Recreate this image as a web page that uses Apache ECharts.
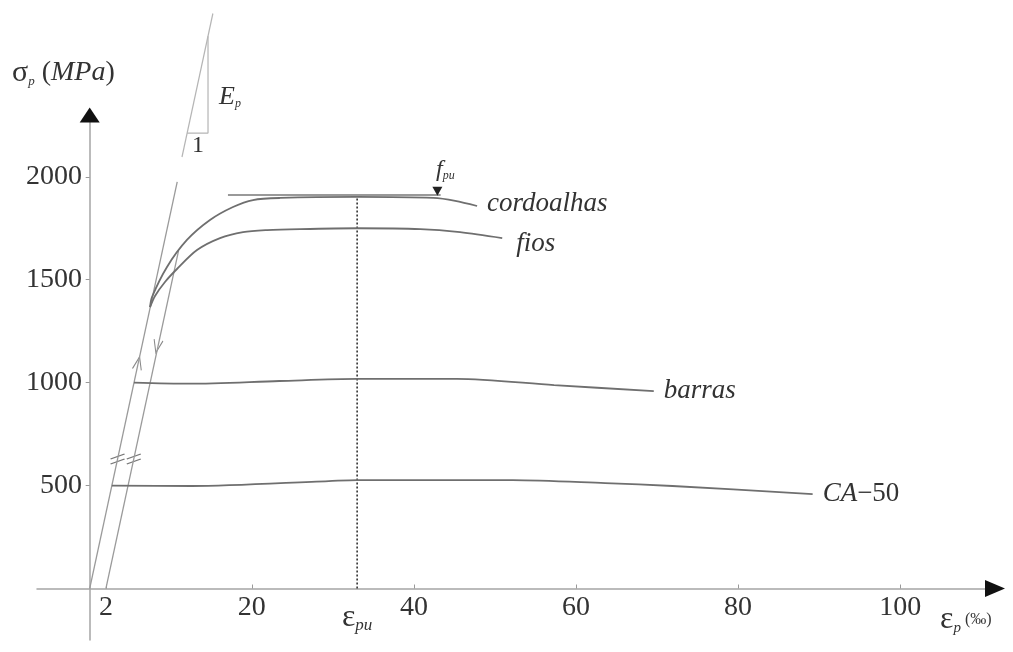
<!DOCTYPE html>
<html>
<head>
<meta charset="utf-8">
<script src="https://cdn.jsdelivr.net/npm/echarts@6.0.0/dist/echarts.min.js"></script>
<style>
html, body { margin: 0; padding: 0; background: #fff; }
#main { width: 1013px; height: 652px; }
</style>
</head>
<body>
<div id="main"></div>
<script>
// tick labels
var strainTicks = [2, 20, 40, 60, 80, 100];
var strainLabels = [2, 20, 33, 40, 60, 80, 100];
var stressTicks = [500, 1000, 1500, 2000];
var epsPu = 33;

// curves  [strain (permil), stress (MPa)]
var cordoalhas = [[7.45, 1367], [7.69, 1416], [9.54, 1562], [12.0, 1693], [14.84, 1790], [17.68, 1853],
	[20.15, 1887], [23.5, 1897], [33.0, 1902], [42.4, 1897], [45.1, 1883], [47.8, 1858]];
var fios = [[7.45, 1367], [8.06, 1421], [9.29, 1489], [10.77, 1552], [13.24, 1644], [16.08, 1702],
	[18.92, 1731], [21.88, 1741], [25.96, 1746], [33.0, 1750], [40.8, 1746], [45.7, 1731], [50.9, 1702]];
var barras = [[5.46, 1000], [12.25, 995], [23.4, 1008], [33.0, 1018], [45.3, 1018], [57.3, 988], [69.6, 959]];
var ca50 = [[2.73, 500], [12.6, 498], [29.5, 522], [33.0, 527], [52.2, 527], [63.6, 512], [71.9, 498], [89.2, 459]];

// construction lines
var loadingLine = [[0, 0], [10.8, 1975]];
var unloadingLine = [[2, 0], [10.96, 1640]];
var fpuLine = [[17.06, 1912], [43.3, 1912]];
var fpuMark = [42.9, 1930];
var epuLine = [[epsPu, 0], [epsPu, 1902]];
var slopeHyp = [[11.39, 2096], [15.2, 2793]];
var slopeLegs = [[12.02, 2212], [14.6, 2212], [14.6, 2683]];
var breakMarks = [[3.44, 629], [5.44, 629]];
var upArrow = [[5.99, 1095]];
var downArrow = [[8.33, 1176]];
var xMax = 111.7, yMax = 2300;

var serif = 'Liberation Serif';
var ink = '#333';
var curveColor = '#6f6f6f';
var thinColor = '#9a9a9a';

var chart = echarts.init(document.getElementById('main'));

function curve(name, data, label, offset) {
	return {
		name: name,
		type: 'line',
		data: data,
		smooth: 0.3,
		symbol: 'none',
		lineStyle: { color: curveColor, width: 1.8 },
		endLabel: {
			show: true,
			formatter: label,
			distance: 10,
			offset: offset || [0, 0],
			fontFamily: serif,
			fontStyle: 'italic',
			fontSize: 27,
			color: ink,
			rich: {
				i: { fontFamily: serif, fontStyle: 'italic', fontSize: 27, color: ink },
				n: { fontFamily: serif, fontStyle: 'normal', fontSize: 27, color: ink }
			}
		}
	};
}

function thin(data, color, width, type) {
	return {
		type: 'line',
		data: data,
		symbol: 'none',
		clip: false,
		silent: true,
		lineStyle: { color: color, width: width, type: type || 'solid' }
	};
}

function marker(data, symbol, size, rotate, style) {
	return {
		type: 'scatter',
		data: data,
		clip: false,
		silent: true,
		symbol: symbol,
		symbolSize: size,
		symbolRotate: rotate,
		itemStyle: style
	};
}

var option = {
	animation: false,
	backgroundColor: '#fff',
	grid: { left: 37, right: 18, top: 115, bottom: 12, containLabel: false, outerBoundsMode: 'none' },
	xAxis: {
		type: 'value',
		min: -6.5,
		max: xMax,
		splitLine: { show: false },
		axisLine: { onZero: true, lineStyle: { color: '#a5a5a5', width: 1.5 } },
		axisTick: { show: true, inside: true, length: 4, customValues: strainTicks, lineStyle: { color: '#999' } },
		axisLabel: {
			customValues: strainLabels,
			margin: -46,
			fontFamily: serif,
			fontSize: 28,
			color: ink,
			formatter: function (v) {
				return v === epsPu ? '{e|ε}{s|pu}' : String(v);
			},
			rich: {
				e: { fontFamily: serif, fontSize: 32, color: ink, padding: [8, 0, 0, 0] },
				s: { fontFamily: serif, fontStyle: 'italic', fontSize: 17, color: ink, verticalAlign: 'bottom' }
			}
		}
	},
	yAxis: {
		type: 'value',
		min: -250,
		max: yMax,
		splitLine: { show: false },
		axisLine: { onZero: true, lineStyle: { color: '#a5a5a5', width: 1.5 } },
		axisTick: { show: true, length: 4, customValues: stressTicks, lineStyle: { color: '#999' } },
		axisLabel: {
			customValues: stressTicks,
			margin: -45,
			fontFamily: serif,
			fontSize: 28,
			color: ink,
			formatter: function (v) { return String(v); }
		}
	},
	graphic: [
		{
			type: 'text', left: 12, top: 58,
			style: {
				text: '{s|σ}{p|p}{t| (}{i|MPa}{t|)}',
				rich: {
					s: { fontFamily: serif, fontSize: 30, fill: ink },
					p: { fontFamily: serif, fontStyle: 'italic', fontSize: 13, fill: ink, verticalAlign: 'bottom' },
					t: { fontFamily: serif, fontSize: 28, fill: ink },
					i: { fontFamily: serif, fontStyle: 'italic', fontSize: 28, fill: ink }
				}
			}
		},
		{
			type: 'text', left: 219, top: 84,
			style: {
				text: '{e|E}{p|p}',
				rich: {
					e: { fontFamily: serif, fontStyle: 'italic', fontSize: 26, fill: ink },
					p: { fontFamily: serif, fontStyle: 'italic', fontSize: 12, fill: ink, verticalAlign: 'bottom' }
				}
			}
		},
		{
			type: 'text', left: 192, top: 134,
			style: { text: '1', fontFamily: serif, fontSize: 24, fill: ink }
		},
		{
			type: 'text', left: 940, top: 604,
			style: {
				text: '{e|ε}{p|p}{u| (‰)}',
				rich: {
					e: { fontFamily: serif, fontSize: 32, fill: ink },
					p: { fontFamily: serif, fontStyle: 'italic', fontSize: 15, fill: ink, verticalAlign: 'bottom' },
					u: { fontFamily: serif, fontSize: 16, fill: ink }
				}
			}
		}
	],
	series: [
		thin(loadingLine, thinColor, 1.3),
		thin(unloadingLine, thinColor, 1.3),
		thin(slopeHyp, '#b5b5b5', 1.2),
		thin(slopeLegs, '#b5b5b5', 1.2),
		thin(epuLine, '#333', 1.6, [2, 2]),
		{
			type: 'line',
			data: fpuLine,
			symbol: 'none',
			silent: true,
			lineStyle: { color: '#777', width: 1.5 },
			markPoint: {
				symbol: 'triangle',
				symbolRotate: 180,
				symbolSize: [10, 9],
				itemStyle: { color: '#222' },
				label: {
					show: true,
					position: 'top',
					offset: [8, 0],
					formatter: '{f|f}{s|pu}',
					rich: {
						f: { fontFamily: serif, fontStyle: 'italic', fontSize: 24, color: ink },
						s: { fontFamily: serif, fontStyle: 'italic', fontSize: 12, color: ink, verticalAlign: 'bottom' }
					}
				},
				data: [{ coord: fpuMark }]
			}
		},
		curve('cordoalhas', cordoalhas, 'cordoalhas', [0, -2]),
		curve('fios', fios, 'fios', [4, 6]),
		curve('barras', barras, 'barras', [0, 0]),
		curve('CA-50', ca50, '{i|CA}{n|−50}', [0, 0]),
		marker(breakMarks, 'path://M0,5 L14,0 M0,10 L14,5', [14, 10], 0,
			{ color: 'none', borderColor: '#777', borderWidth: 1.2, opacity: 1 }),
		marker(upArrow, 'path://M0,12 L5,0 L10,12', [9, 13], -12,
			{ color: 'none', borderColor: '#888', borderWidth: 1.2, opacity: 1 }),
		marker(downArrow, 'path://M0,0 L5,12 L10,0', [9, 13], -12,
			{ color: 'none', borderColor: '#888', borderWidth: 1.2, opacity: 1 }),
		marker([[xMax, 0]], 'triangle', [17, 20], -90, { color: '#111', opacity: 1 }),
		marker([[0, yMax]], 'triangle', [20, 15], 0, { color: '#111', opacity: 1 })
	]
};

chart.setOption(option);
</script>
</body>
</html>
